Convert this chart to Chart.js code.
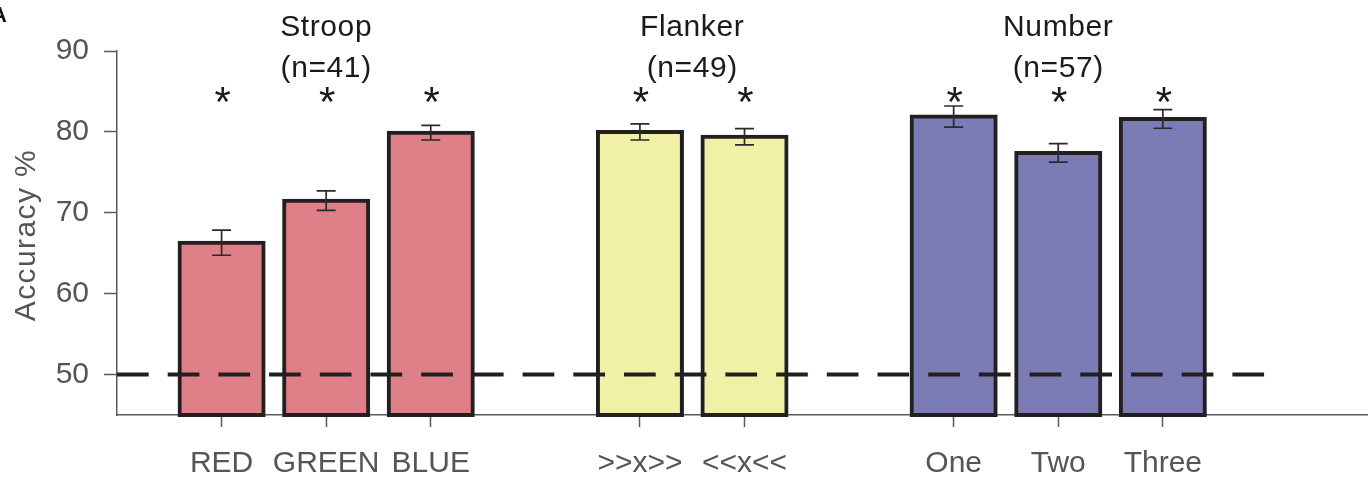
<!DOCTYPE html>
<html>
<head>
<meta charset="utf-8">
<script src="https://cdn.jsdelivr.net/npm/chart.js@4/dist/chart.umd.min.js"></script>
<style>
  html, body { margin: 0; padding: 0; background: #fff; overflow: hidden; }
  #wrap { width: 1368px; height: 477px; overflow: hidden; }
  canvas { display: block; }
</style>
</head>
<body>
<div id="wrap"><canvas id="chart" width="1391" height="477"></canvas></div>
<script>
// Category slots along the x axis; blank slots separate the three tasks
const categories = ['', 'RED', 'GREEN', 'BLUE', '', '>>x>>', '<<x<<', '', 'One', 'Two', 'Three', '', ''];
const taskOf     = [null, 'Stroop', 'Stroop', 'Stroop', null, 'Flanker', 'Flanker', null, 'Number', 'Number', 'Number', null, null];
// Mean accuracy (%) and standard error per condition
const accuracy   = [null, 66.3, 71.5, 79.9, null, 80.0, 79.4, null, 81.9, 77.4, 81.6, null, null];
const sem        = [null, 1.55, 1.2, 0.9, null, 1.0, 1.0, null, 1.3, 1.15, 1.15, null, null];
const significant = [false, true, true, true, false, true, true, false, true, true, true, false, false];
// Task headings
const taskNames = ['Stroop', 'Flanker', 'Number'];
const taskN     = [41, 49, 57];
// Value axis
const yTicks = [50, 60, 70, 80, 90];
const yMin = 45, yMax = 90;
const chanceLevel = 50;
const starLevel = 84.55;

const FONT = '"Liberation Sans", Arial, Helvetica, sans-serif';
const taskColors = { Stroop: '#df7f87', Flanker: '#f1f0a7', Number: '#7b7bb5' };
const axisGrey = '#5a5a5a';

const overlay = {
  id: 'overlay',
  afterDatasetsDraw(chart) {
    const { ctx, chartArea, scales: { x, y } } = chart;
    ctx.save();

    // error bars (mean ± SEM)
    ctx.strokeStyle = '#2a2a2a';
    ctx.lineWidth = 1.7;
    accuracy.forEach((v, i) => {
      if (v == null) return;
      const px = x.getPixelForValue(i);
      const hi = y.getPixelForValue(v + sem[i]);
      const lo = y.getPixelForValue(v - sem[i]);
      ctx.beginPath();
      ctx.moveTo(px, hi); ctx.lineTo(px, lo);
      ctx.moveTo(px - 9.5, hi); ctx.lineTo(px + 9.5, hi);
      ctx.moveTo(px - 9.5, lo); ctx.lineTo(px + 9.5, lo);
      ctx.stroke();
    });

    // chance level
    const cy = y.getPixelForValue(chanceLevel);
    ctx.strokeStyle = '#231f20';
    ctx.lineWidth = 4;
    ctx.setLineDash([31.7, 19]);
    ctx.beginPath();
    ctx.moveTo(chartArea.left, cy);
    ctx.lineTo(x.getPixelForValue(categories.length - 2), cy);
    ctx.stroke();
    ctx.setLineDash([]);

    // significance markers
    ctx.fillStyle = '#1a1a1a';
    ctx.font = '42px ' + FONT;
    ctx.textAlign = 'center';
    ctx.textBaseline = 'alphabetic';
    const m = ctx.measureText('*');
    const starMid = (m.actualBoundingBoxAscent - m.actualBoundingBoxDescent) / 2;
    const sy = y.getPixelForValue(starLevel);
    significant.forEach((s, i) => {
      if (!s) return;
      ctx.fillText('*', x.getPixelForValue(i) + 1, sy + starMid);
    });

    // task headings centred over their bars
    ctx.letterSpacing = '0.6px';
    ctx.font = '30px ' + FONT;
    taskNames.forEach((name, k) => {
      const idx = taskOf.map((t, i) => (t === name ? i : -1)).filter(i => i >= 0);
      const cx = idx.reduce((a, i) => a + x.getPixelForValue(i), 0) / idx.length;
      ctx.fillText(name, cx, 36);
      ctx.fillText('(n=' + taskN[k] + ')', cx, 77);
    });

    // value axis title
    ctx.fillStyle = '#555';
    ctx.letterSpacing = '1.4px';
    ctx.save();
    ctx.translate(35, (chartArea.top + chartArea.bottom) / 2 + 2);
    ctx.rotate(-Math.PI / 2);
    ctx.fillText('Accuracy %', 0, 0);
    ctx.restore();

    // panel letter
    ctx.letterSpacing = '0px';
    ctx.fillStyle = '#111';
    ctx.font = 'bold 22px ' + FONT;
    ctx.fillText('A', -1, 22);

    ctx.restore();
  }
};

new Chart(document.getElementById('chart'), {
  type: 'bar',
  data: {
    labels: categories,
    datasets: [{
      data: accuracy,
      base: yMin,
      backgroundColor: ctx => taskColors[taskOf[ctx.dataIndex]] || 'transparent',
      borderColor: '#231f20',
      borderWidth: 4,
      borderSkipped: false,
      inflateAmount: 2,
      barThickness: 84,
      clip: false
    }]
  },
  options: {
    responsive: false,
    animation: false,
    layout: { padding: { top: 51, left: 0, right: 0, bottom: 0 } },
    plugins: { legend: { display: false }, tooltip: { enabled: false }, title: { display: false } },
    scales: {
      x: {
        type: 'category',
        offset: false,
        grid: {
          offset: false,
          drawOnChartArea: false,
          tickLength: 12,
          tickWidth: 1.5,
          tickColor: ctx => (categories[ctx.index] ? axisGrey : 'rgba(0,0,0,0)')
        },
        border: { color: axisGrey, width: 1.5 },
        ticks: {
          autoSkip: false,
          maxRotation: 0,
          minRotation: 0,
          padding: 19,
          color: '#555',
          font: { family: FONT, size: 30 }
        },
        afterFit: s => { s.height = 62; }
      },
      y: {
        min: yMin,
        max: yMax,
        afterBuildTicks: s => { s.ticks = yTicks.map(v => ({ value: v })); },
        grid: {
          drawOnChartArea: false,
          tickLength: 13,
          tickWidth: 1.5,
          tickColor: axisGrey
        },
        border: { color: axisGrey, width: 1.5 },
        ticks: {
          padding: 15,
          color: '#555',
          font: { family: FONT, size: 30 }
        },
        afterFit: s => { s.width = 117; }
      }
    }
  },
  plugins: [overlay]
});
</script>
</body>
</html>
